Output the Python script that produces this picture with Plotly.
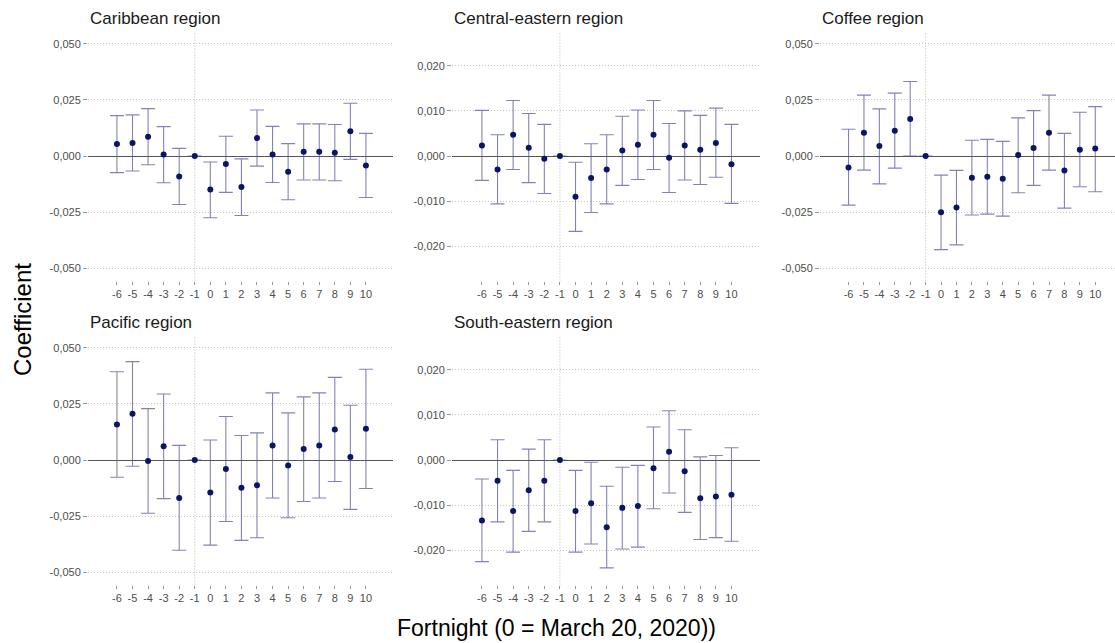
import plotly.graph_objects as go

W, H = 1115, 643

fortnights = [-6, -5, -4, -3, -2, -1, 0, 1, 2, 3, 4, 5, 6, 7, 8, 9, 10]
reference_fortnight = -1

regions = ["Caribbean region", "Central-eastern region", "Coffee region",
           "Pacific region", "South-eastern region"]

caribbean_coef = [0.0054, 0.0058, 0.0086, 0.0007, -0.0091, 0, -0.0149, -0.0036, -0.0138, 0.0080, 0.0007, -0.0070, 0.0019, 0.0019, 0.0015, 0.0110, -0.0042]
caribbean_hi = [0.0180, 0.0183, 0.0211, 0.0131, 0.0034, None, -0.0027, 0.0088, -0.0013, 0.0205, 0.0132, 0.0055, 0.0143, 0.0143, 0.0140, 0.0235, 0.0101]
caribbean_lo = [-0.0074, -0.0067, -0.0039, -0.0119, -0.0216, None, -0.0275, -0.0162, -0.0265, -0.0045, -0.0118, -0.0195, -0.0107, -0.0107, -0.0110, -0.0015, -0.0185]

central_coef = [0.0023, -0.0030, 0.0047, 0.0018, -0.0006, 0, -0.0090, -0.0049, -0.0030, 0.0012, 0.0025, 0.0047, -0.0004, 0.0023, 0.0014, 0.0029, -0.0018]
central_hi = [0.0101, 0.0047, 0.0123, 0.0094, 0.0070, None, -0.0014, 0.0027, 0.0047, 0.0088, 0.0102, 0.0123, 0.0072, 0.0100, 0.0090, 0.0106, 0.0070]
central_lo = [-0.0054, -0.0106, -0.0030, -0.0059, -0.0083, None, -0.0167, -0.0125, -0.0106, -0.0065, -0.0052, -0.0030, -0.0081, -0.0053, -0.0063, -0.0047, -0.0105]

coffee_coef = [-0.0051, 0.0104, 0.0045, 0.0113, 0.0165, 0, -0.0250, -0.0229, -0.0097, -0.0092, -0.0101, 0.0004, 0.0036, 0.0104, -0.0065, 0.0028, 0.0033]
coffee_hi = [0.0119, 0.0271, 0.0210, 0.0280, 0.0332, None, -0.0085, -0.0064, 0.0070, 0.0074, 0.0065, 0.0170, 0.0202, 0.0271, 0.0101, 0.0195, 0.0220]
coffee_lo = [-0.0219, -0.0063, -0.0124, -0.0054, 0.0000, None, -0.0417, -0.0396, -0.0263, -0.0259, -0.0268, -0.0164, -0.0131, -0.0063, -0.0232, -0.0137, -0.0159]

pacific_coef = [0.0158, 0.0206, -0.0004, 0.0061, -0.0169, 0, -0.0145, -0.0040, -0.0124, -0.0112, 0.0065, -0.0024, 0.0049, 0.0065, 0.0136, 0.0013, 0.0139]
pacific_hi = [0.0393, 0.0438, 0.0229, 0.0294, 0.0065, None, 0.0089, 0.0194, 0.0109, 0.0121, 0.0299, 0.0210, 0.0281, 0.0299, 0.0368, 0.0244, 0.0404]
pacific_lo = [-0.0077, -0.0028, -0.0237, -0.0172, -0.0402, None, -0.0379, -0.0274, -0.0358, -0.0346, -0.0169, -0.0257, -0.0185, -0.0169, -0.0096, -0.0220, -0.0127]

southeast_coef = [-0.0134, -0.0046, -0.0113, -0.0067, -0.0046, 0, -0.0113, -0.0096, -0.0149, -0.0106, -0.0102, -0.0018, 0.0018, -0.0025, -0.0085, -0.0081, -0.0077]
southeast_hi = [-0.0042, 0.0045, -0.0023, 0.0024, 0.0045, None, -0.0023, -0.0005, -0.0058, -0.0016, -0.0012, 0.0073, 0.0109, 0.0067, 0.0007, 0.0010, 0.0027]
southeast_lo = [-0.0225, -0.0137, -0.0204, -0.0158, -0.0137, None, -0.0204, -0.0186, -0.0239, -0.0197, -0.0193, -0.0108, -0.0073, -0.0116, -0.0176, -0.0172, -0.0180]

yticks_wide = [-0.050, -0.025, 0.0, 0.025, 0.050]
yticks_narrow = [-0.020, -0.010, 0.0, 0.010, 0.020]

series = [
    (caribbean_coef, caribbean_lo, caribbean_hi),
    (central_coef, central_lo, central_hi),
    (coffee_coef, coffee_lo, coffee_hi),
    (pacific_coef, pacific_lo, pacific_hi),
    (southeast_coef, southeast_lo, southeast_hi),
]

# layout (pixel boxes: left, right, top, bottom)
boxes = [
    (88, 393, 31.4, 280.6),
    (452, 760, 31.4, 280.6),
    (820, 1115, 31.4, 280.6),
    (88, 393, 335.4, 584.6),
    (452, 760, 335.4, 584.6),
]
xranges = [[-7.86, 11.74], [-7.92, 11.83], [-7.85, 11.28], [-7.86, 11.74], [-7.92, 11.83]]
ytick_sets = [yticks_wide, yticks_narrow, yticks_wide, yticks_wide, yticks_narrow]
yranges = [[-0.0555, 0.0555], [-0.0276, 0.0276], [-0.0555, 0.0555], [-0.0555, 0.0555], [-0.0276, 0.0276]]

FONT = "Liberation Sans, Arial, sans-serif"
TICKC = "#4d4d4d"

def fmt(v):
    s = f"{v:.3f}".replace(".", ",")
    if s == "-0,000":
        s = "0,000"
    return s

fig = go.Figure()
layout = dict(
    width=W, height=H,
    margin=dict(l=0, r=0, t=0, b=0),
    paper_bgcolor="white", plot_bgcolor="white",
    showlegend=False,
    font=dict(family=FONT),
)
annotations = []
shapes = []

for i, (name, (coef, lo, hi)) in enumerate(zip(regions, series)):
    k = "" if i == 0 else str(i + 1)
    up = [None if h is None else h - c for c, h in zip(coef, hi)]
    dn = [None if l is None else c - l for c, l in zip(coef, lo)]
    fig.add_trace(go.Scatter(
        x=fortnights, y=coef, mode="markers",
        marker=dict(color="#0b1466", size=6),
        error_y=dict(type="data", array=up, arrayminus=dn, symmetric=False,
                     color="rgba(85,82,150,0.72)", thickness=1.1, width=7),
        xaxis="x" + k, yaxis="y" + k,
        hoverinfo="x+y",
    ))
    L, R, T, B = boxes[i]
    layout["xaxis" + k] = dict(
        domain=[L / W, R / W], anchor="y" + k, range=xranges[i],
        tickvals=fortnights, ticktext=[str(v) for v in fortnights],
        showgrid=False, zeroline=False, showline=False,
        ticks="outside", ticklen=3, tickcolor="#999", tickwidth=1,
        tickfont=dict(size=11, color=TICKC, family=FONT),
        fixedrange=True,
    )
    ticks = ytick_sets[i]
    layout["yaxis" + k] = dict(
        domain=[1 - B / H, 1 - T / H], anchor="x" + k, range=yranges[i],
        tickvals=ticks, ticktext=[fmt(v) for v in ticks],
        showgrid=True, gridcolor="#c4c4c4", griddash="1px,2px", gridwidth=1,
        zeroline=True, zerolinecolor="#555555", zerolinewidth=1,
        showline=False,
        ticks="outside", ticklen=4, tickcolor="#999", tickwidth=1,
        tickfont=dict(size=11, color=TICKC, family=FONT),
        fixedrange=True,
    )
    shapes.append(dict(
        type="line", xref="x" + k, yref="y" + k + " domain",
        x0=reference_fortnight, x1=reference_fortnight, y0=0, y1=1,
        line=dict(color="#b5b5b5", width=1, dash="1px,2px"), layer="below",
    ))
    annotations.append(dict(
        text=name, xref="paper", yref="paper",
        x=L / W, y=1 - (T - 12.5) / H, xanchor="left", yanchor="middle",
        showarrow=False, font=dict(size=17, color="#1a1a1a", family=FONT),
    ))

annotations.append(dict(
    text="Coefficient", xref="paper", yref="paper",
    x=22 / W, y=1 - 320 / H, xanchor="center", yanchor="middle",
    textangle=-90, showarrow=False, font=dict(size=24, color="black", family=FONT),
))
annotations.append(dict(
    text="Fortnight (0 = March 20, 2020))", xref="paper", yref="paper",
    x=556 / W, y=1 - 628 / H, xanchor="center", yanchor="middle",
    showarrow=False, font=dict(size=23, color="black", family=FONT),
))

layout["annotations"] = annotations
layout["shapes"] = shapes
fig.update_layout(**layout)
fig.write_html(
    "out.html",
    config={"displayModeBar": False, "staticPlot": True},
    post_script="document.body.style.margin='0';document.body.style.overflow='hidden';",
)
